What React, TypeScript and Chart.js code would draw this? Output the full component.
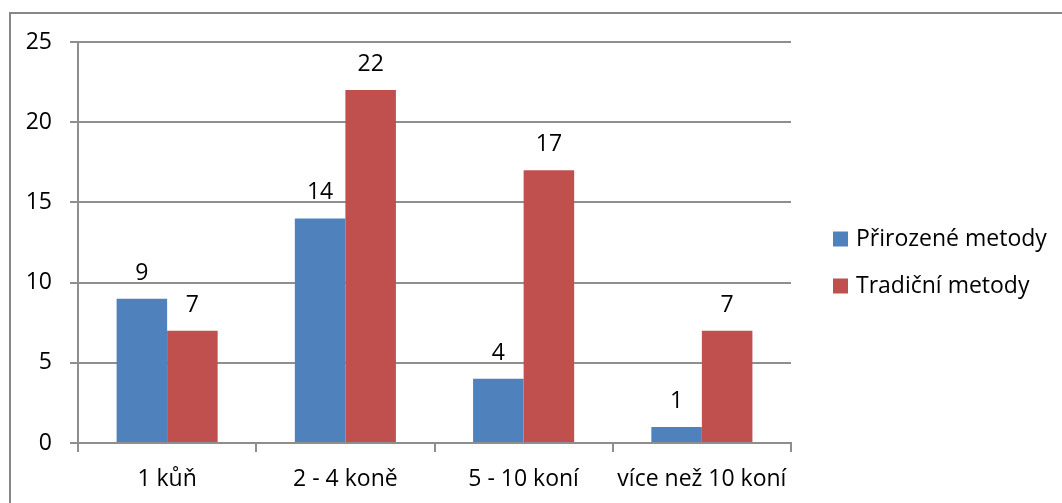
import React, { useEffect, useRef } from "react";
import { Chart, registerables } from "chart.js";

Chart.register(...registerables);

const categories = ["1 kůň", "2 - 4 koně", "5 - 10 koní", "více než 10 koní"];
const seriesNames = ["Přirozené metody", "Tradiční metody"];
const prirozeneValues = [9, 14, 4, 1];
const tradicniValues = [7, 22, 17, 7];
const seriesColors = ["#4F81BD", "#C0504D"];
const yMin = 0;
const yMax = 25;
const yStep = 5;

const FONT = "'Open Sans', 'Noto Sans', sans-serif";
const FONT_SIZE = 23;
const GRID = "#8e8e8e";

const valueLabelPlugin = {
  id: "valueLabels",
  afterDatasetsDraw(chart: any) {
    const ctx = chart.ctx;
    ctx.save();
    ctx.font = `${FONT_SIZE}px ${FONT}`;
    ctx.fillStyle = "#000";
    ctx.textAlign = "center";
    ctx.textBaseline = "alphabetic";
    chart.data.datasets.forEach((ds: any, di: number) => {
      const meta = chart.getDatasetMeta(di);
      meta.data.forEach((el: any, i: number) => {
        ctx.fillText(String(ds.data[i]), el.x, el.y - 19);
      });
    });
    ctx.restore();
  },
};

const sideLegendPlugin = {
  id: "sideLegend",
  afterDraw(chart: any) {
    const ctx = chart.ctx;
    const area = chart.chartArea;
    const x0 = area.right + 42;
    const mid = (area.top + area.bottom) / 2;
    const spacing = 47;
    ctx.save();
    ctx.font = `${FONT_SIZE}px ${FONT}`;
    ctx.textAlign = "left";
    ctx.textBaseline = "middle";
    chart.data.datasets.forEach((ds: any, i: number) => {
      const yc = mid - 4 + i * spacing;
      ctx.fillStyle = ds.backgroundColor;
      ctx.fillRect(x0, yc - 7, 15, 15);
      ctx.fillStyle = "#000";
      ctx.fillText(ds.label, x0 + 23, yc + 1);
    });
    ctx.restore();
  },
};

export default function App() {
  const canvasRef = useRef<HTMLCanvasElement | null>(null);

  useEffect(() => {
    if (!canvasRef.current) return;
    const chart = new Chart(canvasRef.current, {
      type: "bar",
      data: {
        labels: categories,
        datasets: [
          {
            label: seriesNames[0],
            data: prirozeneValues,
            backgroundColor: seriesColors[0],
            categoryPercentage: 0.567,
            barPercentage: 1.0,
          },
          {
            label: seriesNames[1],
            data: tradicniValues,
            backgroundColor: seriesColors[1],
            categoryPercentage: 0.567,
            barPercentage: 1.0,
          },
        ],
      },
      options: {
        responsive: false,
        devicePixelRatio: 1,
        animation: false,
        layout: { padding: { left: 0, top: 42, right: 271, bottom: 0 } },
        plugins: {
          legend: { display: false },
          tooltip: { enabled: false },
        },
        scales: {
          x: {
            grid: {
              offset: true,
              drawOnChartArea: false,
              drawTicks: true,
              tickLength: 9,
              color: GRID,
              lineWidth: 2,
            },
            border: { display: true, color: GRID, width: 2 },
            ticks: {
              color: "#000",
              font: { family: FONT, size: FONT_SIZE },
              padding: 14,
              maxRotation: 0,
              autoSkip: false,
            },
            afterFit: (s: any) => {
              s.height = 60;
            },
          },
          y: {
            min: yMin,
            max: yMax,
            grid: {
              color: GRID,
              lineWidth: 2,
              drawTicks: true,
              tickLength: 8,
            },
            border: { display: true, color: GRID, width: 2 },
            ticks: {
              stepSize: yStep,
              color: "#000",
              font: { family: FONT, size: FONT_SIZE },
              padding: 18,
            },
            afterFit: (s: any) => {
              s.width = 78;
            },
          },
        },
      },
      plugins: [valueLabelPlugin, sideLegendPlugin],
    });
    return () => chart.destroy();
  }, []);

  return (
    <div>
      <canvas
        ref={canvasRef}
        width={1062}
        height={503}
        style={{ position: "fixed", left: 0, top: 0, width: 1062, height: 503 }}
      />
      <div
        style={{
          position: "fixed",
          left: 9,
          top: 12,
          width: 2000,
          height: 2000,
          borderTop: "2px solid #878787",
          borderLeft: "2px solid #878787",
          pointerEvents: "none",
        }}
      />
    </div>
  );
}
